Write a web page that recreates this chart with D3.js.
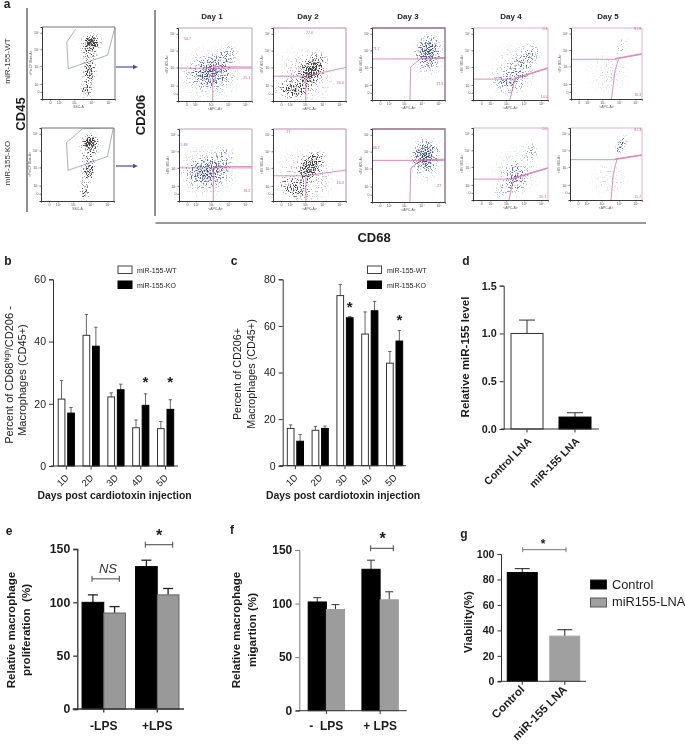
<!DOCTYPE html>
<html><head><meta charset="utf-8">
<script src="https://cdn.jsdelivr.net/npm/d3@7"></script>
<style>
html,body{margin:0;padding:0;background:#fff}
svg{display:block}
text{font-family:"Liberation Sans",Arial,sans-serif;fill:#1c1c1c}
</style></head><body><svg id="c" width="685" height="752"></svg>
<script>
// ---------- bar chart data ----------
const dayCats = ["1D","2D","3D","4D","5D"];
const bWT = [21.5,42,22.2,12.3,12];
const bKO = [17,38.5,24.5,19.5,18.2];
const bWTTop = [27.5,48.7,23.5,14.8,14.3];
const bKOTop = [18.8,44.6,26.3,23.2,21.3];
const bStars = [["4D",27],["5D",27]];
const cWT = [16,15.2,73,56.5,44];
const cKO = [10.5,16,63.5,66.5,53.5];
const cWTTop = [17.5,16.8,77.8,66,49];
const cKOTop = [13.4,17,64,70.5,58];
const cStars = [["3D",68],["5D",62.3]];
const dCats = ["Control LNA","miR-155 LNA"];
const dVals = [1.0,0.125];
const dTops = [1.14,0.17];
const eCats = ["-LPS","+LPS"];
const eBlack = [100,133.5];
const eGray = [90,107];
const eBlackTop = [107,139.5];
const eGrayTop = [96,113];
const fCats = ["-\u00a0\u00a0LPS","+ LPS"];
const fBlack = [101.5,132];
const fGray = [94.5,103.5];
const fBlackTop = [105.5,140.5];
const fGrayTop = [99,111];
const gCats = ["Control","miR-155 LNA"];
const gVals = [85.5,35.5];
const gTops = [88.5,40.5];

// ---------- flow cytometry: population clusters ----------
// [x, y, rx, ry, angle, density] on the plot's own 0-100 axes
const cd45WT = [[68,78,11,12,0,.95],[67,78,19,19,0,.4],[65,58,14,32,0,.4],[66,38,10,16,0,.6],[62,22,10,30,0,.28],[60,12,9,14,0,.45]];
const cd45KO = [[68,80,11,12,0,.95],[67,78,19,19,0,.4],[65,58,14,30,0,.4],[66,40,10,15,0,.65],[60,20,11,32,0,.25],[60,12,8,12,0,.35]];
const d1WT = [[43,38,36,26,0,.62],[43,38,52,46,0,.22],[65,60,16,24,25,.4],[46,44,14,26,0,.2]];
const d2WT = [[53,42,19,32,35,.8],[27,16,29,16,0,.55],[45,35,48,44,35,.2]];
const d3WT = [[77,66,20,28,10,.7],[77,62,28,40,10,.26]];
const d4WT = [[43,23,29,18,15,.34],[57,38,21,26,20,.38],[74,62,16,26,30,.36],[58,45,42,46,40,.16]];
const d5WT = [[72,75,9,18,25,.24],[52,35,36,38,0,.12]];
const d1KO = [[38,40,36,26,0,.66],[38,40,52,46,0,.22],[60,58,16,24,25,.36]];
const d2KO = [[52,48,17,30,35,.8],[30,18,27,17,25,.52],[45,35,50,46,35,.2]];
const d3KO = [[73,63,21,28,10,.74],[73,60,30,40,10,.26]];
const d4KO = [[57,32,22,26,20,.46],[77,68,14,18,15,.26],[40,12,15,13,0,.26],[58,38,40,42,35,.16]];
const d5KO = [[71,76,8,20,30,.55],[55,30,32,32,0,.12]];
const coreD1WT = [[40,39,20,11,0,.45]];
const coreD2WT = [[54,45,9,16,30,.6]];
const coreD3WT = [[78,70,9,14,10,.6]];
const coreD4WT = [[74,62,5,10,30,.3]];
const coreD1KO = [[37,40,20,11,0,.5]];
const coreD2KO = [[55,52,9,15,30,.7]];
const coreD3KO = [[73,65,11,15,10,.6]];
const coreD5KO = [[72,76,4,13,30,.4]];

// gate polylines on the same 0-100 axes
const gateCD45WT = [[[46,97],[34,79],[36,42],[90,61],[100,100]]];
const gateCD45KO = [[[57,99],[35,80],[37,42],[91,61],[99,100],[57,99]]];
const gateD1WT = [[[0,45],[100,45]],[[47,47],[100,46.5]],[[47,45],[47,0]]];
const gateD2WT = [[[0,34],[45,34],[100,46]],[[45,34],[45,0]]];
const gateD3WT = [[[0,57],[66,57],[100,58]],[[66,58],[100,59]],[[52,0],[53,46],[66,57]]];
const gateD4WT = [[[0,29],[55,29],[100,44]],[[55,30],[100,45]],[[49,0],[56,29]],[[100,44],[100,0]]];
const gateD5WT = [[[0,56],[62,56],[100,63]],[[62,57],[100,64]],[[57,0],[62,40],[67,56]]];
const gateD1KO = [[[0,46],[100,46]],[[47,48],[100,48]],[[47,46],[47,0]]];
const gateD2KO = [[[0,35],[45,35],[100,43]],[[45,35],[45,0]]];
const gateD3KO = [[[0,57],[66,57],[100,57]],[[66,58],[100,58.5]],[[52,0],[53,46],[66,57]]];
const gateD4KO = [[[0,29],[52,29],[100,44]],[[52,30],[100,45]],[[48,0],[54,29]]];
const gateD5KO = [[[0,56],[62,56],[100,62]],[[62,57],[100,63]],[[57,0],[60,35],[65,56]]];
const flowYTicks = [[10,"0"],[21,"10²"],[46,"10³"],[69,"10⁴"],[92,"10⁵"]];
const flowXTicks = [[11,"0"],[23,"10²"],[44,"10³"],[68,"10⁴"],[91,"10⁵"]];

const svg = d3.select("#c");
const defs = svg.append("defs");
// soft blur matching the reference image's softness
const soft = defs.append("filter").attr("id","soft").attr("filterUnits","userSpaceOnUse")
  .attr("x",0).attr("y",0).attr("width",685).attr("height",752);
soft.append("feGaussianBlur").attr("stdDeviation",.32);
const grad = defs.append("radialGradient").attr("id","blob");
[[0,1],[.5,.6],[.8,.18],[1,0]].forEach(s=>grad.append("stop").attr("offset",s[0]).attr("stop-color","#000").attr("stop-opacity",s[1]));
// grain texture: density is set by the drawn clusters, the filter only breaks them into dots
[["grainBlue","#5566ad"],["grainGray","#3f3f3f"],["grainCore","#2a4a62"]].forEach(([id,col])=>{
  const f = defs.append("filter").attr("id",id).attr("x","-20%").attr("y","-20%").attr("width","140%").attr("height","140%")
    .attr("color-interpolation-filters","sRGB");
  f.append("feTurbulence").attr("type","fractalNoise").attr("baseFrequency",.8).attr("numOctaves",1).attr("seed",4).attr("result","n");
  f.append("feColorMatrix").attr("in","n").attr("type","matrix")
    .attr("values","0 0 0 0 0 0 0 0 0 0 0 0 0 0 0 3.4 0 0 0 -1.2").attr("result","na");
  f.append("feComposite").attr("in","SourceAlpha").attr("in2","na").attr("operator","arithmetic")
    .attr("k1",0).attr("k2",1).attr("k3",1).attr("k4",-1).attr("result","m");
  const ct = f.append("feComponentTransfer").attr("in","m").attr("result","sp");
  ct.append("feFuncA").attr("type","linear").attr("slope",2.6);
  f.append("feGaussianBlur").attr("in","sp").attr("stdDeviation",.28).attr("result","spb");
  f.append("feFlood").attr("flood-color",col).attr("result","fl");
  f.append("feComposite").attr("in","fl").attr("in2","spb").attr("operator","in");
});
const root = svg.append("g").attr("filter","url(#soft)");
const txt = (x,y,s,o={})=>{
  const t = root.append("text").attr("x",x).attr("y",y).text(s)
    .attr("font-size",o.size||10).attr("font-weight",o.bold?"bold":"normal")
    .attr("font-style",o.italic?"italic":"normal").attr("text-anchor",o.anchor||"middle");
  if(o.fill) t.style("fill",o.fill);
  if(o.rot!=null) t.attr("transform",`rotate(${o.rot} ${x} ${y})`);
  return t;
};
let clipN = 0;
function flowPlot(o){
  const x = d3.scaleLinear().domain([0,100]).range([o.x0,o.x1]);
  const y = d3.scaleLinear().domain([0,100]).range([o.y1,o.y0]);
  const g = root.append("g");
  const id = "cp"+(clipN++);
  defs.append("clipPath").attr("id",id).append("rect").attr("x",o.x0).attr("y",o.y0).attr("width",o.x1-o.x0).attr("height",o.y1-o.y0);
  const inner = g.append("g").attr("clip-path",`url(#${id})`);
  const layer = (arr,filt)=>{
    inner.append("g").attr("filter",`url(#${filt})`).selectAll("ellipse").data(arr).join("ellipse")
      .attr("transform",d=>`translate(${x(d[0])},${y(d[1])}) rotate(${d[4]})`)
      .attr("rx",d=>x(d[2])-x(0)).attr("ry",d=>y(0)-y(d[3]))
      .attr("fill","url(#blob)").attr("opacity",d=>d[5]);
  };
  layer(o.clusters,o.tone);
  if(o.core) layer(o.core,o.tone==="grainBlue"?"grainCore":"grainGray");
  const ln = d3.line().x(d=>x(d[0])).y(d=>y(d[1]));
  inner.selectAll("path.gate").data(o.gates).join("path").attr("class","gate").attr("d",ln)
    .attr("fill","none").attr("stroke",o.gateColor).attr("stroke-width",o.gateW||.8).attr("opacity",.85);
  // frame
  g.append("path").attr("d",`M${o.x0},${o.y0}H${o.x1}V${o.y1}`).attr("fill","none").attr("stroke",o.frame).attr("stroke-width",o.frameW||1);
  const ya = d3.axisLeft(y).tickValues(flowYTicks.map(d=>d[0])).tickFormat(v=>flowYTicks.find(d=>d[0]===v)[1]).tickSize(1.5).tickPadding(1);
  const xa = d3.axisBottom(x).tickValues(flowXTicks.map(d=>d[0])).tickFormat(v=>flowXTicks.find(d=>d[0]===v)[1]).tickSize(1.5).tickPadding(1);
  [g.append("g").attr("transform",`translate(${o.x0},0)`).call(ya),
   g.append("g").attr("transform",`translate(0,${o.y1})`).call(xa)].forEach(a=>{
     a.selectAll("text").attr("font-size",3.6).style("fill","#555");
     a.select(".domain").attr("stroke","#222").attr("stroke-width",.9);
     a.selectAll("line").attr("stroke","#222").attr("stroke-width",.6);
   });
  txt((o.x0+o.x1)/2,o.y1+9,o.xLab,{size:3.4,fill:"#555"});
  txt(o.x0-10.5,(o.y0+o.y1)/2,o.yLab,{size:3.4,fill:"#555",rot:-90});
  (o.labels||[]).forEach(l=>txt(x(l[0]),y(l[1]),l[2],{size:3.6,fill:"#c4609f"}));
}
const pink = "#c75c9f", apc="<APC-A>", bv="<BV 605-A>";
flowPlot({x0:42,x1:115,y0:27,y1:99,clusters:cd45WT,tone:"grainGray",gates:[gateCD45WT[0]],gateColor:"#8189b3",frame:"#777",xLab:"SSC-A",yLab:"<PerCP Blue-A>"});
flowPlot({x0:41,x1:114,y0:128,y1:201,clusters:cd45KO,tone:"grainGray",gates:[gateCD45KO[0]],gateColor:"#8189b3",frame:"#777",xLab:"SSC-A",yLab:"<PerCP Blue-A>"});
const row1 = [
 {x0:178,x1:252,y0:28,y1:101,clusters:d1WT,core:coreD1WT,tone:"grainBlue",gates:gateD1WT,frame:"#b9a3b3",labels:[[13,84,"54.7"],[93,30,"25.1"]]},
 {x0:273,x1:346,y0:28,y1:101,clusters:d2WT,core:coreD2WT,tone:"grainGray",gates:gateD2WT,frame:"#b88bab",labels:[[50,92,"77.6"],[92,23,"20.4"]]},
 {x0:372,x1:445,y0:28,y1:100,clusters:d3WT,core:coreD3WT,tone:"grainBlue",gates:gateD3WT,frame:"#8f6f86",frameW:1.4,labels:[[6,69,"71.7"],[93,21,"27.3"]]},
 {x0:473,x1:548,y0:28,y1:100,clusters:d4WT,core:coreD4WT,tone:"grainBlue",gates:gateD4WT,frame:"#dcb5cf",labels:[[96,97,"0.4"],[95,3,"14.0"]]},
 {x0:571,x1:642,y0:28,y1:99,clusters:d5WT,tone:"grainBlue",gates:gateD5WT,frame:"#dcb5cf",labels:[[94,97,"81.8"],[94,4,"16.3"]]}];
const row2 = [
 {x0:179,x1:252,y0:129,y1:201,clusters:d1KO,core:coreD1KO,tone:"grainBlue",gates:gateD1KO,frame:"#b9a3b3",labels:[[7,76,"5.48"],[93,12,"18.2"]]},
 {x0:273,x1:346,y0:129,y1:201,clusters:d2KO,core:coreD2KO,tone:"grainGray",gates:gateD2KO,frame:"#b88bab",labels:[[21,95,"17"],[92,23,"16.3"]]},
 {x0:372,x1:445,y0:129,y1:202,clusters:d3KO,core:coreD3KO,tone:"grainBlue",gates:gateD3KO,frame:"#8f6f86",frameW:1.4,labels:[[6,72,"66.7"],[92,20,"27"]]},
 {x0:473,x1:548,y0:128,y1:200,clusters:d4KO,tone:"grainBlue",gates:gateD4KO,frame:"#dcb5cf",labels:[[96,97,"0.6"],[93,3,"20.1"]]},
 {x0:570,x1:642,y0:128,y1:200,clusters:d5KO,core:coreD5KO,tone:"grainBlue",gates:gateD5KO,frame:"#dcb5cf",labels:[[94,96,"81.3"],[94,3,"11.7"]]}];
row1.concat(row2).forEach(p=>flowPlot({...p,gateColor:pink,xLab:apc,yLab:bv}));

// panel a furniture
const rule=(x1,y1,x2,y2,w=1,c="#333")=>root.append("line").attr("x1",x1).attr("y1",y1).attr("x2",x2).attr("y2",y2).attr("stroke",c).attr("stroke-width",w);
rule(27,8,27,212,1.2,"#444"); rule(155,10,155,216,1.1,"#333"); rule(155.5,223,646,223,1.1,"#333");
[67,166].forEach(y=>{
  rule(116,y,134,y,1.2,"#4a4f9b");
  root.append("path").attr("d",`M133,${y-2.2}L138,${y}L133,${y+2.2}Z`).attr("fill","#4a4f9b");
});
[["Day 1",212],["Day 2",308],["Day 3",408],["Day 4",511],["Day 5",608]].forEach(d=>txt(d[1],19,d[0],{size:8,bold:true}));
txt(10,61,"miR-155-WT",{size:8,rot:-90,fill:"#333"});
txt(10,163,"miR-155-KO",{size:8,rot:-90,fill:"#333"});
txt(25,114,"CD45",{size:13,bold:true,rot:-90});
txt(145,115,"CD206",{size:13,bold:true,rot:-90});
txt(374,242,"CD68",{size:13,bold:true});
[["a",7,8],["b",8,265],["c",234,265],["d",466,265],["e",9,535],["f",232,534],["g",464,538]].forEach(l=>txt(l[1],l[2],l[0],{size:12,bold:true}));

// ---------- generic bar panel ----------
function barPanel(o){
  const x = d3.scaleBand().domain(o.cats).range(o.band);
  const y = d3.scaleLinear().domain([0,o.ymax]).range([o.y0,o.y1]);
  const g = root.append("g");
  o.cats.forEach((c,i)=>{
    const mid = x(c)+x.bandwidth()/2;
    const step = o.barW+o.gap;
    const span = o.series.length*step-o.gap;
    const sx = o.series.length>1
      ? d3.scaleBand().domain(o.series.map((s,j)=>j)).range([mid-span/2,mid+span/2]).paddingInner(o.gap/step)
      : d3.scaleBand().domain([0]).range([mid-span/2,mid+span/2]);
    o.series.forEach((s,j)=>{
      const bx = sx(j), bw = sx.bandwidth(), cx = bx+bw/2;
      const v = s.vals[i], t = s.tops[i];
      const col = s.errColor||o.errColor||"#333";
      g.append("line").attr("x1",cx).attr("x2",cx).attr("y1",y(v)).attr("y2",y(t)).attr("stroke",col).attr("stroke-width",o.errW);
      g.append("line").attr("x1",cx-o.cap/2).attr("x2",cx+o.cap/2).attr("y1",y(t)).attr("y2",y(t)).attr("stroke",col).attr("stroke-width",o.errW);
      g.append("rect").attr("x",bx).attr("y",y(v)).attr("width",bw).attr("height",y(0)-y(v))
        .attr("fill",s.fill?(Array.isArray(s.fill)?s.fill[i]:s.fill):"#000").attr("stroke",Array.isArray(s.stroke)?s.stroke[i]:s.stroke).attr("stroke-width",s.sw==null?1:s.sw);
    });
  });
  const ya = d3.axisLeft(y).tickValues(o.ticks).tickFormat(o.tf||(d=>d)).tickSize(o.tickLen||4).tickPadding(o.pad||3);
  const ay = g.append("g").attr("transform",`translate(${o.yx},0)`).call(ya);
  ay.selectAll("text").attr("font-size",o.tickSize).attr("font-weight",o.tickBold?"bold":"normal").attr("font-family","Liberation Sans");
  ay.select(".domain").attr("stroke",o.yAxisColor||"#333").attr("stroke-width",o.axisW||1);
  ay.selectAll("line").attr("stroke",o.yAxisColor||"#333").attr("stroke-width",o.axisW||1);
  const xa = d3.axisBottom(x).tickSize(o.xTick||3.5).tickFormat("");
  const ax = g.append("g").attr("transform",`translate(0,${o.y0})`).call(xa);
  ax.select(".domain").attr("d",`M${o.xr[0]},0H${o.xr[1]}`).attr("stroke","#333").attr("stroke-width",o.axisW||1);
  ax.selectAll("line").attr("stroke","#333").attr("stroke-width",o.axisW||1);
  o.cats.forEach(c=>{
    const m = x(c)+x.bandwidth()/2;
    if(o.rotLab) txt(m+o.rotLab.dx,o.y0+o.rotLab.dy,c,{size:o.rotLab.size,bold:o.rotLab.bold,anchor:"end",rot:-45});
    else txt(m,o.flatY,c,{size:o.flatSize,bold:true});
  });
  return {x,y};
}
const stars=(pan,list,sz,dx)=>list.forEach(s=>txt(pan.x(s[0])+pan.x.bandwidth()/2+dx,pan.y(s[1])+sz*.33,"*",{size:sz,bold:true}));
const drawBr=(xa,xb,yy,col,w=1,h=3)=>{rule(xa,yy,xb,yy,w,col);rule(xa,yy-h,xa,yy+h,w,col);rule(xb,yy-h,xb,yy+h,w,col);};

// b
const pb = barPanel({cats:dayCats,band:[53.9,178],xr:[51,178],y0:466,y1:279.3,ymax:60,ticks:[0,20,40,60],yx:53,
  series:[{vals:bWT,tops:bWTTop,fill:"#fff",stroke:"#333"},{vals:bKO,tops:bKOTop,fill:"#000",stroke:"#000"}],
  barW:6.7,gap:2.8,errW:.9,cap:3.4,errColor:"#555",tickSize:10.5,rotLab:{dx:3,dy:12.5,size:9.5}});
stars(pb,bStars,15,4.7);
const legend=(x,tx,size)=>{
  root.append("rect").attr("x",x).attr("y",266).attr("width",14).attr("height",7.5).attr("fill","#fff").attr("stroke","#444");
  root.append("rect").attr("x",x).attr("y",281).attr("width",14).attr("height",7.5).attr("fill","#000").attr("stroke","#000");
  txt(tx,272.5,"miR-155-WT",{size,anchor:"start"});
  txt(tx,287.5,"miR-155-KO",{size,anchor:"start"});
};
legend(118,137,7); legend(367.5,387,7);
const yb = root.append("text").attr("transform","translate(13,375) rotate(-90)").attr("text-anchor","middle").attr("font-size",11);
yb.append("tspan").text("Percent of CD68");
yb.append("tspan").text("high").attr("font-size",6.5).attr("dy",-4);
yb.append("tspan").text("/CD206 -").attr("dy",4);
txt(26,380,"Macrophages (CD45+)",{size:11,rot:-90});
txt(114.5,499,"Days post cardiotoxin injection",{size:10.4,bold:true});

// c
const pc = barPanel({cats:dayCats,band:[283,407],xr:[279.5,406],y0:465.7,y1:279.3,ymax:80,ticks:[0,20,40,60,80],yx:282.7,
  series:[{vals:cWT,tops:cWTTop,fill:"#fff",stroke:"#333"},{vals:cKO,tops:cKOTop,fill:"#000",stroke:"#000"}],
  barW:6.7,gap:2.8,errW:.9,cap:3.4,errColor:"#555",tickSize:10.5,rotLab:{dx:3,dy:12.5,size:9.5}});
stars(pc,cStars,15,4.7);
txt(241,374,"Percent of CD206+",{size:10.8,rot:-90});
txt(255,374,"Macrophages (CD45+)",{size:10.8,rot:-90});
txt(343,499,"Days post cardiotoxin injection",{size:10.4,bold:true});

// d
barPanel({cats:dCats,band:[503,599],xr:[501,599],y0:429,y1:285.7,ymax:1.5,ticks:[0,.5,1,1.5],tf:d3.format(".1f"),yx:503.7,
  series:[{vals:dVals,tops:dTops,fill:["#fff","#000"],stroke:["#333","#000"]}],barW:32,gap:0,errW:1,cap:16,tickSize:10.8,tickBold:true,
  rotLab:{dx:5,dy:13,size:10.5,bold:true}});
txt(469,357,"Relative miR-155 level",{size:11.5,bold:true,rot:-90});

// e
const pe = barPanel({cats:eCats,band:[77,184],xr:[72.7,184],y0:709,y1:549,ymax:150,ticks:[0,50,100,150],yx:77.3,
  series:[{vals:eBlack,tops:eBlackTop,fill:"#000",stroke:"#000"},{vals:eGray,tops:eGrayTop,fill:"#999",stroke:"#666"}],
  barW:21.7,gap:0,errW:1.3,cap:10,errColor:"#222",tickSize:12.3,tickBold:true,axisW:1.3,flatY:730,flatSize:12});
drawBr(92,119.3,pe.y(122),"#444",1,3); drawBr(145.3,172.7,pe.y(154),"#444",1,3);
txt(108,573,"NS",{size:13,italic:true,fill:"#333"});
txt(159,541,"*",{size:16,bold:true});
txt(15,630,"Relative macrophage",{size:11.6,bold:true,rot:-90});
txt(30,630,"proliferation\u00a0\u00a0(%)",{size:11.6,bold:true,rot:-90});

// f
const pf = barPanel({cats:fCats,band:[299.5,407],xr:[295.7,406.7],y0:710.7,y1:550,ymax:150,ticks:[0,50,100,150],yx:299.3,
  series:[{vals:fBlack,tops:fBlackTop,fill:"#000",stroke:"#000"},{vals:fGray,tops:fGrayTop,fill:"#9c9c9c",stroke:"#9c9c9c"}],
  barW:18.2,gap:0,errW:1,cap:8,errColor:"#333",tickSize:12,tickBold:true,yAxisColor:"#777",flatY:730,flatSize:12});
drawBr(370.7,393.3,pf.y(151.6),"#444",1,3);
txt(382.5,544,"*",{size:16,bold:true});
txt(240,630,"Relative macrophage",{size:11.6,bold:true,rot:-90});
txt(256,630,"migartion (%)",{size:11.6,bold:true,rot:-90});

// g
const pg = barPanel({cats:gCats,band:[501,586],xr:[498.3,586],y0:681.3,y1:554,ymax:100,ticks:[0,20,40,60,80,100],yx:501,
  series:[{vals:gVals,tops:gTops,fill:["#000","#a0a0a0"],stroke:["#000","#a8a8a8"]}],barW:30,gap:0,errW:1,cap:15,errColor:"#222",tickSize:10.6,tickBold:true,tickLen:3.5,
  rotLab:{dx:3,dy:9,size:11.5,bold:true}});
drawBr(522.7,566,pg.y(103.4),"#777",1,2.5);
txt(543,548,"*",{size:12,bold:true});
txt(472,622,"Viability(%)",{size:11.5,bold:true,rot:-90});
root.append("rect").attr("x",590.5).attr("y",580).attr("width",16).attr("height",9).attr("fill","#000").attr("stroke","#222");
root.append("rect").attr("x",590.5).attr("y",598).attr("width",16).attr("height",9).attr("fill","#a0a0a0").attr("stroke","#555");
txt(612,588.5,"Control",{size:12.8,anchor:"start"});
txt(612,606,"miR155-LNA",{size:12.8,anchor:"start"});
</script></body></html>
